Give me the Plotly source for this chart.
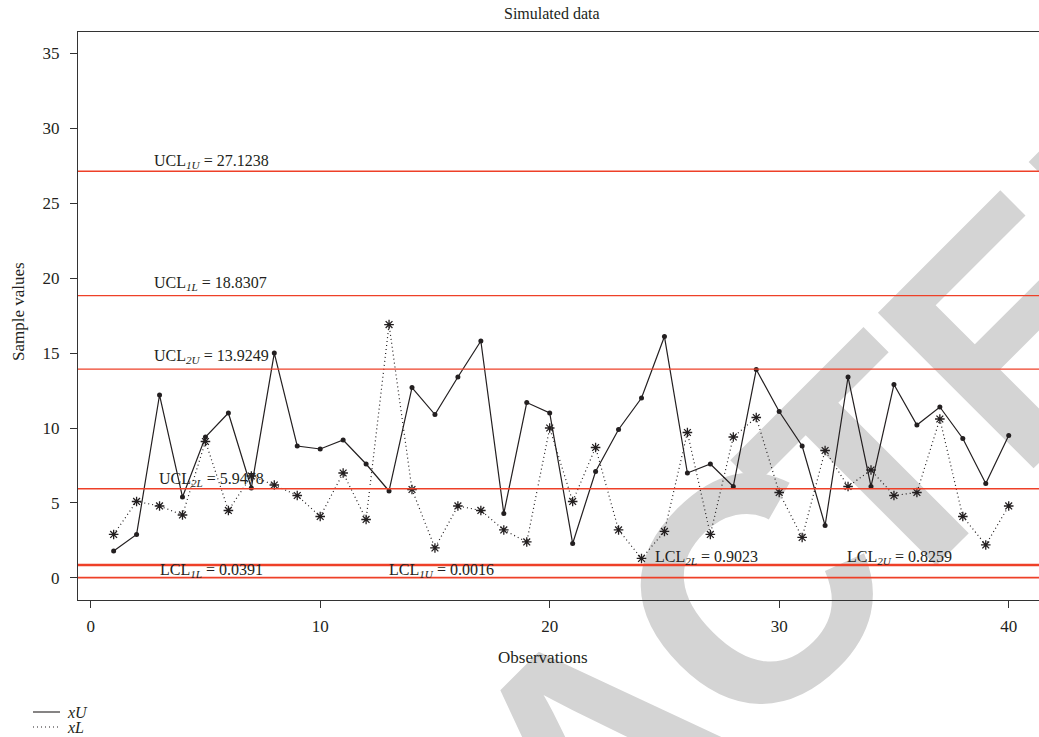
import math
import plotly.graph_objects as go

# ---- data ----
obs = list(range(1, 41))
xU = [1.8, 2.9, 12.2, 5.4, 9.4, 11.0, 6.0, 15.0, 8.8, 8.6,
      9.2, 7.6, 5.8, 12.7, 10.9, 13.4, 15.8, 4.3, 11.7, 11.0,
      2.3, 7.1, 9.9, 12.0, 16.1, 7.0, 7.6, 6.1, 13.9, 11.1,
      8.8, 3.5, 13.4, 6.1, 12.9, 10.2, 11.4, 9.3, 6.3, 9.5]
xL = [2.9, 5.1, 4.8, 4.2, 9.1, 4.5, 6.8, 6.2, 5.5, 4.1,
      7.0, 3.9, 16.9, 5.9, 2.0, 4.8, 4.5, 3.2, 2.4, 10.0,
      5.1, 8.7, 3.2, 1.3, 3.1, 9.7, 2.9, 9.4, 10.7, 5.7,
      2.7, 8.5, 6.1, 7.2, 5.5, 5.7, 10.6, 4.1, 2.2, 4.8]

limit_names = ["UCL<sub><i>1U</i></sub>", "UCL<sub><i>1L</i></sub>", "UCL<sub><i>2U</i></sub>",
               "UCL<sub><i>2L</i></sub>", "LCL<sub><i>1L</i></sub>", "LCL<sub><i>1U</i></sub>",
               "LCL<sub><i>2L</i></sub>", "LCL<sub><i>2U</i></sub>"]
limit_values = [27.1238, 18.8307, 13.9249, 5.9478, 0.0391, 0.0016, 0.9023, 0.8259]
# label anchor positions (data coords)
label_x = [2.66, 2.66, 2.66, 2.88, 2.93, 12.9, 24.49, 32.87]
label_y = [27.77, 19.65, 14.75, 6.59, 0.51, 0.49, 1.38, 1.38]

series_names = ["xU", "xL"]

x_ticks = [0, 10, 20, 30, 40]
y_ticks = [0, 5, 10, 15, 20, 25, 30, 35]

# watermark letters and their positions along the diagonal (pixels)
wm_letters = list("RETRACTED")
wm_u = [-978, -756, -551, -338, -107, 113, 285, 485, 707]
WM_V = 921

SERIF = "Liberation Serif"
INK = "#231F20"
RED = "#EE4028"
DOT = "1px,3px"

W, H = 1039, 737
ML, MR, MT, MB = 78, 0, 32, 137
PW, PH = W - ML - MR, H - MT - MB


def px(xp):
    return (xp - ML) / PW


def py(yp):
    return (H - MB - yp) / PH


fig = go.Figure()

# watermark (behind data)
for ch, u in zip(wm_letters, wm_u):
    xx = (u + WM_V) / math.sqrt(2)
    yy = (WM_V - u) / math.sqrt(2)
    cx, cy = px(xx), py(yy)
    fig.add_shape(type="rect", xref="paper", yref="paper",
                  x0=cx - 0.001, x1=cx + 0.001, y0=cy - 0.001, y1=cy + 0.001,
                  line=dict(width=0), fillcolor="rgba(0,0,0,0)", layer="below",
                  label=dict(text=f"<b>{ch}</b>", textangle=-45, textposition="middle center",
                             font=dict(family="Liberation Sans", size=320, color="#D4D4D4")))

for v in limit_values:
    fig.add_hline(y=v, line=dict(color=RED, width=1.3))

fig.add_trace(go.Scatter(x=obs, y=xU, mode="lines+markers", showlegend=False, name=series_names[0],
                         line=dict(color=INK, width=1.2),
                         marker=dict(symbol="circle", size=5, color=INK)))
fig.add_trace(go.Scatter(x=obs, y=xL, mode="lines+markers", showlegend=False, name=series_names[1],
                         line=dict(color=INK, width=1.2, dash=DOT),
                         marker=dict(symbol="asterisk-open", size=8, color=INK,
                                     line=dict(color=INK, width=1.3))))

# manual legend (below the plot, left)
for i, (nm, dash) in enumerate(zip(series_names, ["solid", DOT])):
    yy = py(712 + 15 * i)
    fig.add_shape(type="line", xref="paper", yref="paper", x0=px(33), x1=px(60), y0=yy, y1=yy,
                  line=dict(color=INK, width=1.1, dash=dash))
    fig.add_annotation(text=f"<i>{nm}</i>", xref="paper", yref="paper", x=px(65), y=yy,
                       showarrow=False, xanchor="left", yanchor="middle",
                       font=dict(family=SERIF, size=16, color=INK))

for name, val, lx, ly in zip(limit_names, limit_values, label_x, label_y):
    fig.add_annotation(x=lx, y=ly, xref="x", yref="y", text=f"{name} = {val:.4f}",
                       showarrow=False, xanchor="left", yanchor="middle",
                       font=dict(family=SERIF, size=16, color=INK))

fig.add_annotation(text="Simulated data", xref="paper", yref="paper", x=px(552), y=py(14),
                   showarrow=False, xanchor="center", yanchor="middle",
                   font=dict(family=SERIF, size=16, color=INK))
fig.add_annotation(text="Observations", xref="paper", yref="paper", x=px(543), y=py(657),
                   showarrow=False, xanchor="center", yanchor="middle",
                   font=dict(family=SERIF, size=17, color=INK))
fig.add_annotation(text="Sample values", xref="paper", yref="paper", x=px(18), y=py(312),
                   showarrow=False, xanchor="center", yanchor="middle", textangle=-90,
                   font=dict(family=SERIF, size=17, color=INK))

fig.update_layout(
    width=W, height=H,
    margin=dict(l=ML, r=MR, t=MT, b=MB, autoexpand=False),
    paper_bgcolor="white", plot_bgcolor="rgba(0,0,0,0)",
    font=dict(family=SERIF, size=16, color=INK),
    showlegend=False,
    xaxis=dict(range=[-0.553, 41.32], tickvals=x_ticks, ticks="outside", ticklen=7,
               showline=True, linecolor="#333333", linewidth=1.2, mirror=True,
               showgrid=False, zeroline=False, tickcolor="#333333", automargin=False,
               ticklabelstandoff=3,
               tickfont=dict(family=SERIF, size=17, color=INK)),
    yaxis=dict(range=[-1.47, 36.41], tickvals=y_ticks, ticks="outside", ticklen=7,
               showline=True, linecolor="#333333", linewidth=1.2, mirror=False,
               showgrid=False, zeroline=False, tickcolor="#333333", ticklabelstandoff=7,
               automargin=False,
               tickfont=dict(family=SERIF, size=17, color=INK)),
)

fig.write_html("out.html", config={"displayModeBar": False},
               post_script="document.body.style.margin='0px';document.body.style.overflow='hidden';")
